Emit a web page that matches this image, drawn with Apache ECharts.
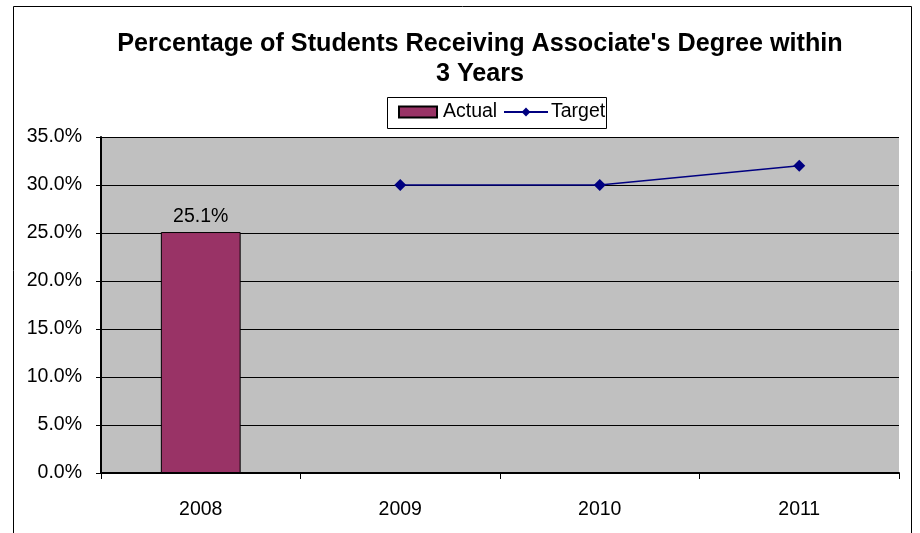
<!DOCTYPE html>
<html><head><meta charset="utf-8">
<script src="https://cdn.jsdelivr.net/npm/echarts@6/dist/echarts.min.js"></script>
<style>html,body{margin:0;padding:0;background:#fff}#c{width:920px;height:533px}</style>
</head><body><div id="c"></div>
<script>
var categories = ['2008', '2009', '2010', '2011'];
var actual = [25.1, null, null, null];
var target = [null, 30.0, 30.0, 32.0];
var yTicks = [0, 5, 10, 15, 20, 25, 30, 35];

var chart = echarts.init(document.getElementById('c'));
var F = '"Liberation Sans", Arial, sans-serif';
chart.setOption({
  animation: false,
  backgroundColor: '#fff',
  title: {
    text: "Percentage of Students Receiving Associate's Degree within\n3 Years",
    left: 480, top: 29, padding: 0, textAlign: 'center',
    textStyle: { fontFamily: F, fontSize: 25.2, fontWeight: 'bold', color: '#000', lineHeight: 30 }
  },
  legend: [{
    top: 102, left: 398, padding: 0,
    itemWidth: 38, itemHeight: 11,
    textStyle: { fontFamily: F, fontSize: 19.5, color: '#000', lineHeight: 20, padding: [0, 0, 0, 1] },
    data: [{ name: 'Actual', icon: 'rect' }]
  }, {
    top: 102, left: 503, padding: 0,
    itemWidth: 44, itemHeight: 11,
    textStyle: { fontFamily: F, fontSize: 19.5, color: '#000', lineHeight: 20, padding: [0, 0, 0, -2] },
    data: [{ name: 'Target' }]
  }],
  graphic: [{
    type: 'rect', shape: { x: 13.5, y: 6.5, width: 898, height: 600 },
    style: { fill: null, stroke: '#000', lineWidth: 1 }, silent: true, z: 100
  }, {
    type: 'rect', shape: { x: 387.5, y: 97.5, width: 219, height: 31 },
    style: { fill: null, stroke: '#000', lineWidth: 1 }, silent: true, z: 100
  }],
  grid: { left: 101, right: 21, top: 137, bottom: 60, show: true, backgroundColor: '#c0c0c0', borderWidth: 0 },
  xAxis: {
    type: 'category', data: categories, boundaryGap: true,
    axisLine: { lineStyle: { color: '#000', width: 2 } },
    axisTick: { show: true, alignWithLabel: false, length: 6, lineStyle: { color: '#000', width: 1 } },
    axisLabel: { fontFamily: F, fontSize: 19.5, color: '#000', margin: 27 }
  },
  yAxis: {
    type: 'value', min: 0, max: 35, interval: 5,
    axisLine: { show: true, lineStyle: { color: '#000', width: 2 } },
    axisTick: { show: true, length: 5, lineStyle: { color: '#000' } },
    axisLabel: { fontFamily: F, fontSize: 19.5, color: '#000', margin: 19,
      formatter: function (v) { return v.toFixed(1) + '%'; } },
    splitLine: { show: true, lineStyle: { color: '#000', width: 1 } }
  },
  series: [{
    name: 'Actual', type: 'bar', data: actual, barWidth: '40%',
    itemStyle: { color: '#993366', borderColor: '#000', borderWidth: 1 },
    label: { show: true, position: 'top', distance: 5, fontFamily: F, fontSize: 19.5, color: '#000',
      formatter: function (p) { return p.value.toFixed(1) + '%'; } }
  }, {
    name: 'Target', type: 'line', data: target, connectNulls: false,
    symbol: 'diamond', symbolSize: 12,
    lineStyle: { color: '#000080', width: 1.5 },
    itemStyle: { color: '#000080' }
  }]
});
</script></body></html>
